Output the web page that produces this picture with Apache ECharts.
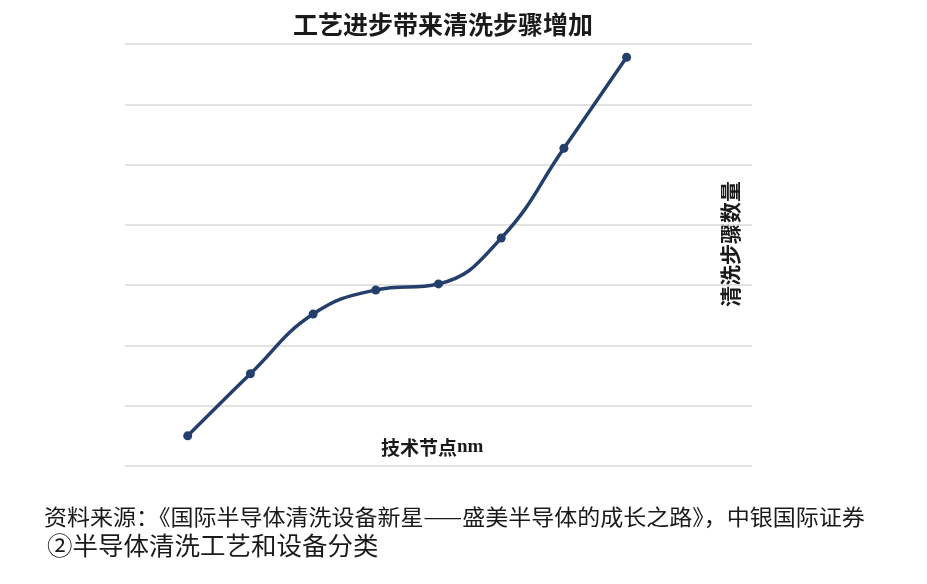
<!DOCTYPE html>
<html>
<head>
<meta charset="utf-8">
<script src="https://cdn.jsdelivr.net/npm/echarts@6/dist/echarts.min.js"></script>
<style>
html,body{margin:0;padding:0;background:#fff;}
#main{width:927px;height:584px;}
</style>
</head>
<body>
<div id="main"></div>
<script>
// Data
const categories = ['', 'n1', 'n2', 'n3', 'n4', 'n5', 'n6', 'n7', 'n8', '', ''];
const cleaningSteps = [null, 0.50, 1.53, 2.52, 2.92, 3.02, 3.78, 5.27, 6.78, null, null];
const titleText = '工艺进步带来清洗步骤增加';
const xNameCn = '技术节点';
const xNameUnit = 'nm';
const yName = '清洗步骤数量';
const sourceText = '资料来源：《国际半导体清洗设备新星——盛美半导体的成长之路》，中银国际证券';
const captionText = '②半导体清洗工艺和设备分类';

const chart = echarts.init(document.getElementById('main'), null, {renderer: 'canvas'});
const FONT = '"Noto Sans CJK SC", "Noto Sans", sans-serif';
chart.setOption({
  animation: false,
  backgroundColor: '#ffffff',
  title: {
    text: titleText,
    left: 438, top: 7, textAlign: 'center',
    textStyle: {fontFamily: FONT, fontSize: 25, fontWeight: 'bold', color: '#1a1a1a'}
  },
  grid: {left: 125, right: 175, top: 44, bottom: 118, containLabel: false},
  xAxis: {
    type: 'category', data: categories, boundaryGap: false,
    axisLine: {show: false}, axisTick: {show: false}, axisLabel: {show: false},
    splitLine: {show: false}
  },
  yAxis: {
    type: 'value', min: 0, max: 7, interval: 1,
    axisLine: {show: false}, axisTick: {show: false}, axisLabel: {show: false},
    splitLine: {show: true, lineStyle: {color: '#d9d9d9', width: 1.5}}
  },
  series: [{
    type: 'line', data: cleaningSteps, smooth: 0.45,
    symbol: 'circle', symbolSize: 9,
    lineStyle: {color: '#243f6b', width: 3.5},
    itemStyle: {color: '#243f6b'}
  }],
  graphic: [
    {type: 'text', left: 381, top: 438,
     style: {
       text: '{a|' + xNameCn + '}{b|' + xNameUnit + '}',
       rich: {
         a: {font: 'bold 19px ' + FONT, fill: '#1a1a1a', color: '#1a1a1a'},
         b: {font: 'bold 19px "Liberation Serif", serif', fill: '#1a1a1a', color: '#1a1a1a'}
       }
     }},
    {type: 'text', x: 720, y: 307, rotation: Math.PI / 2,
     style: {text: yName, font: 'bold 21px ' + FONT, fill: '#1a1a1a'}},
    {type: 'text', x: 44, y: 506, scaleX: 1.07,
     style: {text: sourceText, font: '21.5px ' + FONT, fill: '#1a1a1a'}},
    {type: 'text', x: 47, y: 533, scaleX: 1.02,
     style: {text: captionText, font: '25px ' + FONT, fill: '#1a1a1a'}}
  ]
});
</script>
</body>
</html>
